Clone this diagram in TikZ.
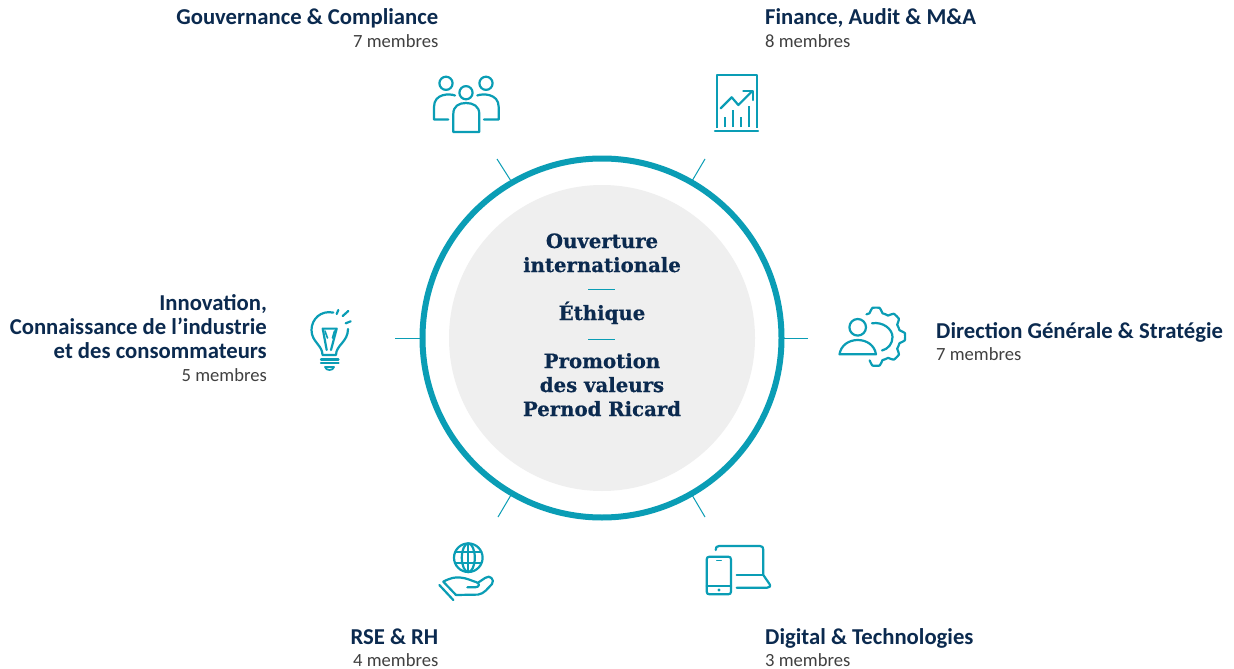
\documentclass[tikz,border=0pt]{standalone}
\usepackage{fontspec}
\setmainfont{Carlito}
\newfontfamily\slabfont[BoldFeatures={FakeBold=0.6}]{DejaVu Serif}
\definecolor{teal}{HTML}{0A9DB5}
\definecolor{navy}{HTML}{0B2A4F}
\definecolor{greytxt}{HTML}{404040}
\definecolor{disc}{HTML}{EFEFEF}
\tikzset{
 ttl/.style={inner sep=0pt,text=navy,font=\fontsize{22.7}{24}\selectfont\bfseries},
 sub/.style={inner sep=0pt,text=greytxt,font=\fontsize{18.6}{20}\selectfont},
 ctr/.style={inner sep=0pt,text=navy,align=center,font=\fontsize{19.7}{24}\slabfont\bfseries},
 tick/.style={draw=teal,line width=1pt},
 sep/.style={draw=teal,line width=0.8pt},
 ico/.style={draw=teal,line width=2.2pt,line cap=round,line join=round},
}
\begin{document}
\begin{tikzpicture}[x=1pt,y=-1pt]
\useasboundingbox (0,0) rectangle (1234,669);
\fill[white] (0,0) rectangle (1234,669);
% disc and ring
\node[circle,fill=disc,minimum size=306pt,inner sep=0pt] (disc) at (602,338) {};
\node[circle,draw=teal,line width=6pt,minimum size=359pt,inner sep=0pt] (ring) at (602,338) {};
% ticks
\foreach \n/\xa/\ya/\xb/\yb in {a/497/159/511/181,b/705/159/692/181,c/808/338/783/338,d/395/338/421/338,e/498/517/511/495,f/705/517/692/495}{
  \coordinate (\n1) at (\xa,\ya);
  \coordinate (\n2) at (\xb,\yb);
  \draw[tick] (\n1) -- (\n2);
}
% centre text
\node[ctr,anchor=base] (t1) at (602,248) {Ouverture};
\node[ctr,anchor=base] (t2) at (602,272) {internationale};
\coordinate (s1a) at (588,289.3); \coordinate (s1b) at (615,289.3);
\draw[sep] (s1a) -- (s1b);
\node[ctr,anchor=base] (t3) at (602,320) {Éthique};
\coordinate (s2a) at (588,339); \coordinate (s2b) at (615,339);
\draw[sep] (s2a) -- (s2b);
\node[ctr,anchor=base] (t4) at (602,368) {Promotion};
\node[ctr,anchor=base] (t5) at (602,392) {des valeurs};
\node[ctr,anchor=base] (t6) at (602,416) {Pernod Ricard};
% labels
\node[ttl,anchor=base east] (l1) at (438.5,25) {Gouvernance \& Compliance};
\node[sub,anchor=base east] (m1) at (438.5,47.5) {7 membres};
\node[ttl,anchor=base west] (l2) at (765,25) {Finance, Audit \& M\&A};
\node[sub,anchor=base west] (m2) at (765,47.5) {8 membres};
\node[ttl,anchor=base west] (l3) at (936,338) {Direction Générale \& Stratégie};
\node[sub,anchor=base west] (m3) at (936,360.5) {7 membres};
\node[ttl,anchor=base east] (l4a) at (267,310.5) {Innovation,};
\node[ttl,anchor=base east] (l4b) at (267,334) {Connaissance de l’industrie};
\node[ttl,anchor=base east] (l4c) at (267,358) {et des consommateurs};
\node[sub,anchor=base east] (m4) at (267,381) {5 membres};
\node[ttl,anchor=base east] (l5) at (438.5,644) {RSE \& RH};
\node[sub,anchor=base east] (m5) at (438.5,666) {4 membres};
\node[ttl,anchor=base west] (l6) at (765,644) {Digital \& Technologies};
\node[sub,anchor=base west] (m6) at (765,666) {3 membres};
% people icon
\draw[ico] (446,83.3) circle (6.6) (486,83.3) circle (6.6) (466,92.7) circle (6.6);
\draw[ico] (453.3,132) -- (453.3,114) .. controls (453.3,106) and (459,103) .. (466,103) .. controls (473,103) and (479.3,106) .. (479.3,114) -- (479.3,132) -- cycle;
\draw[ico] (455,95.5) .. controls (450,93.5) and (434,93) .. (434,107) -- (434,119.5) -- (448.3,119.5);
\draw[ico] (477.3,95.5) .. controls (482,93.5) and (498.7,93) .. (498.7,107) -- (498.7,119.5) -- (484,119.5);
% chart icon
\draw[ico,line cap=butt] (716.7,128) -- (716.7,74.7) -- (756.7,74.7) -- (756.7,128);
\draw[ico] (715,131.3) -- (758,131.3);
\draw[ico,line cap=butt] (724.7,127) -- (724.7,116.7) (732.7,127) -- (732.7,110) (740.7,127) -- (740.7,116.7) (748.7,127) -- (748.7,106);
\draw[ico] (720.7,108.3) -- (731.7,97.3) -- (738.3,105) -- (751.7,91.7);
\draw[ico] (743.3,91) -- (752.7,91) -- (752.7,100);
% gear + person icon
\draw[ico] (857.7,327.3) circle (8.3);
\draw[ico] (839.5,354.3) .. controls (841,345) and (849,340) .. (857.7,340) .. controls (866.5,340) and (874.5,345) .. (876,354.3) -- cycle;
\draw[ico] (872,323.3) .. controls (883,321.5) and (892.5,329) .. (892.5,337) .. controls (892.5,344) and (888,349) .. (882,350.5);
\draw[ico] plot[domain=113:-105,samples=180,smooth] ({876+(26.7+2.4*max(-1,min(1,1.8*cos(8*\x))))*cos(\x)},{336.7-(26.7+2.4*max(-1,min(1,1.8*cos(8*\x))))*sin(\x)});
% bulb icon
\draw[ico] (333.3,312.6) .. controls (321,310) and (311.5,319) .. (311.5,330) .. controls (311.5,342) and (322.5,345) .. (322.5,355) -- (336,355) .. controls (336,345) and (348,342) .. (348,329);
\draw[ico] (321,359.5) -- (338.5,359.5) (321,363.3) -- (338.5,363.3);
\draw[ico,line width=1.8pt] (325,367) .. controls (326,371) and (333,371) .. (334,367) -- cycle;
\draw[ico] (326.7,350) -- (322.7,328.6) -- (336.7,328.6) -- (331,350);
\draw[ico,line width=1.6pt] (325,331) -- (327.5,338) (334.5,331) -- (332.5,338);
\draw[ico] (336.7,314) -- (338.3,310) (342.7,316) -- (348.3,311) (345.7,323.3) -- (350.7,321.3);
% globe hand icon
\draw[ico] (468.3,557.7) circle (14.3);
\draw[ico] (468.3,557.7) ellipse (6.5 and 14.3);
\draw[ico] (468.3,543.4) -- (468.3,572) (456,552.3) -- (480.6,552.3) (456,563.3) -- (480.6,563.3);
\draw[ico] (439.3,585) -- (453.3,600) (443.3,581.7) -- (456,595);
\draw[ico] (443.3,581.7) .. controls (450,578) and (455,577) .. (460,577.5) .. controls (467,578) and (472,581) .. (476,582) .. controls (480,583) and (480,587.3) .. (475,587.3) -- (467.3,587.3);
\draw[ico] (456,595) -- (478,594.6) .. controls (484,594) and (488,588) .. (492,584) .. controls (495,580) and (490,574) .. (485,578) -- (478.3,582.5);
% devices icon
\draw[ico] (715.7,550) .. controls (715.7,547.5) and (716.5,546) .. (719,546) -- (760,546) .. controls (762.5,546) and (763.3,547.5) .. (763.3,550) -- (763.3,575) -- (769.5,584) .. controls (771,586.5) and (769.5,587.7) .. (767,587.7) -- (736.7,587.7);
\draw[ico] (736.7,575) -- (763.3,575);
\draw[ico] (706.7,559.5) .. controls (706.7,557.5) and (707.7,556.7) .. (709.5,556.7) -- (728.2,556.7) .. controls (730,556.7) and (731,557.5) .. (731,559.5) -- (731,591.5) .. controls (731,593.5) and (730,594.3) .. (728.2,594.3) -- (709.5,594.3) .. controls (707.7,594.3) and (706.7,593.5) .. (706.7,591.5) -- cycle;
\draw[ico] (706.7,585.7) -- (731,585.7);
\draw[ico,line width=1.4pt] (716.7,560.3) -- (721.2,560.3);
\fill[teal] (719,590) circle (1.7);
\end{tikzpicture}
\end{document}
